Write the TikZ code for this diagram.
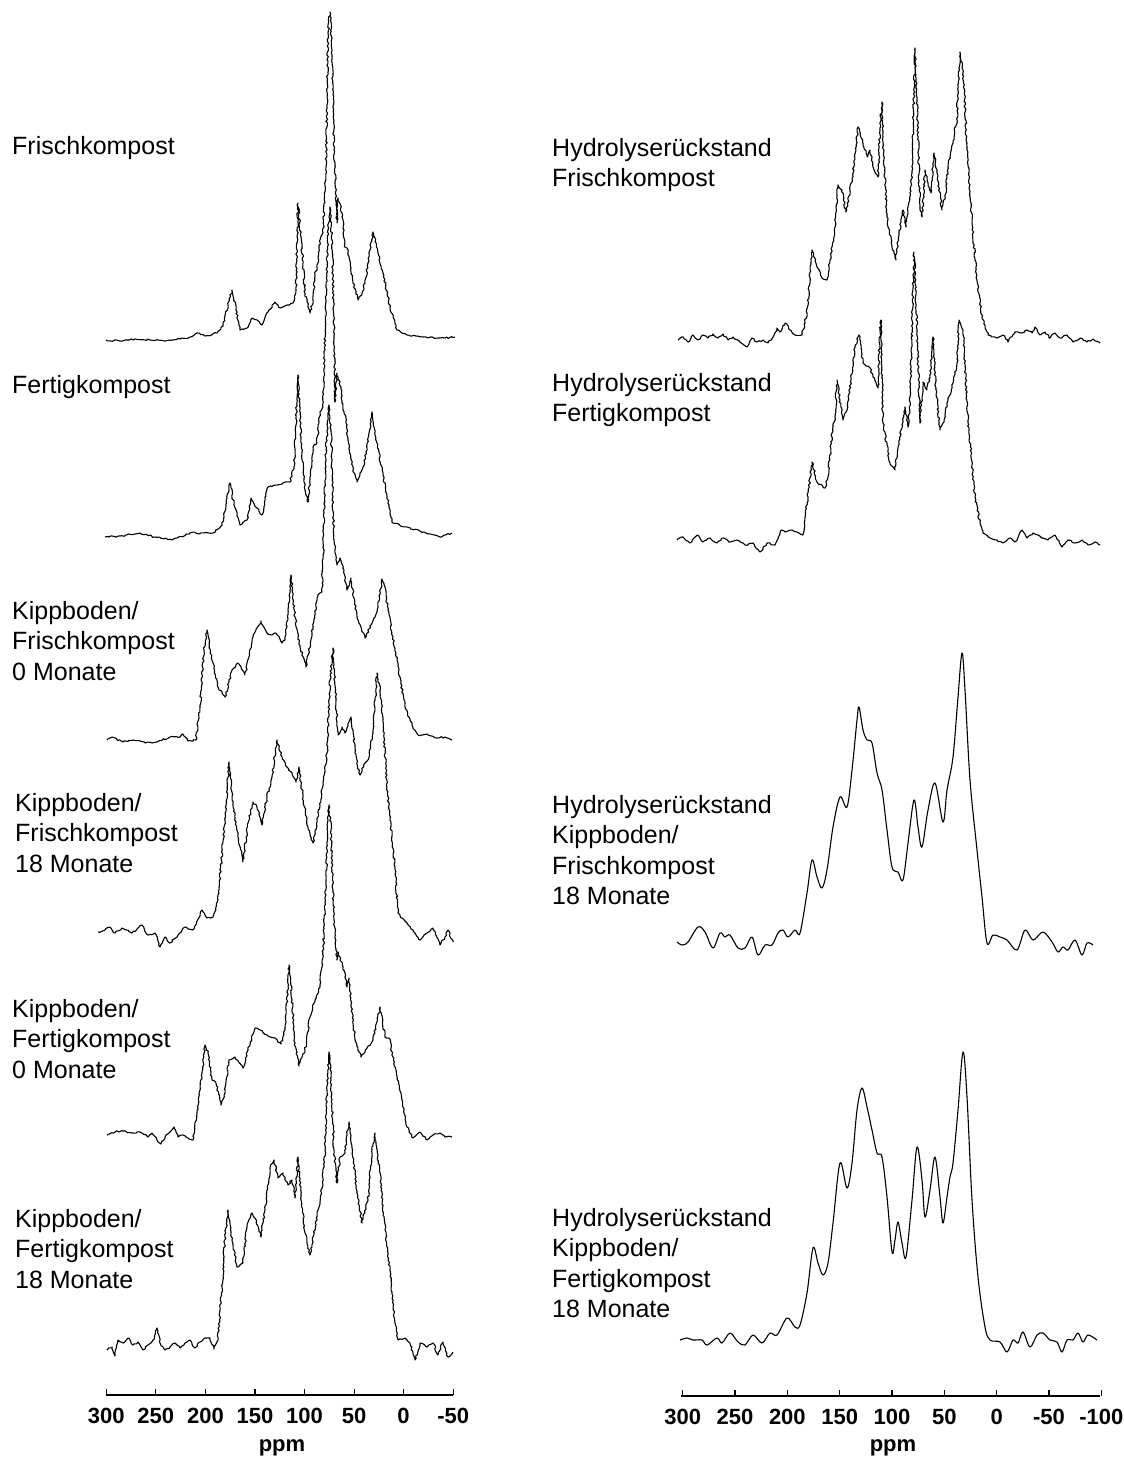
\documentclass[tikz,border=0pt]{standalone}
\usepackage{fontspec}
\setmainfont{Liberation Sans}
\usetikzlibrary{decorations.pathmorphing}

\tikzset{
  spec/.style={line width=1.1pt, line join=round, decorate,
    decoration={random steps, segment length=2.2pt, amplitude=0.9pt}},
  wavy/.style={line width=1.1pt, line join=round, smooth, tension=0.55},
  lbl/.style={anchor=base west, align=left, inner sep=0pt, font=\fontsize{25}{30.5}\selectfont},
  ticklbl/.style={anchor=base, inner sep=0pt, font=\fontsize{22}{24}\selectfont\bfseries},
  axisline/.style={line width=1.1pt},
}

\begin{document}
\begin{tikzpicture}[x=1pt,y=-1pt]
\useasboundingbox (0,0) rectangle (1124,1459);

% labels left (base = last line)
\node[lbl] (l1) at (12,154) {Frischkompost};
\node[lbl] (l2) at (12,393) {Fertigkompost};
\node[lbl] (l3) at (12,680) {Kippboden/\\Frischkompost\\0 Monate};
\node[lbl] (l4) at (15,872) {Kippboden/\\Frischkompost\\18 Monate};
\node[lbl] (l5) at (12,1078) {Kippboden/\\Fertigkompost\\0 Monate};
\node[lbl] (l6) at (15,1288) {Kippboden/\\Fertigkompost\\18 Monate};

% labels right
\node[lbl] (r1) at (552,186.5) {Hydrolyserückstand\\Frischkompost};
\node[lbl] (r2) at (552,421.5) {Hydrolyserückstand\\Fertigkompost};
\node[lbl] (r3) at (552,904.5) {Hydrolyserückstand\\Kippboden/\\Frischkompost\\18 Monate};
\node[lbl] (r4) at (552,1317.5) {Hydrolyserückstand\\Kippboden/\\Fertigkompost\\18 Monate};

% spectra left
\draw[spec] plot coordinates {(106,340) (120,341) (135,339) (150,340) (165,341) (180,339) (190,337) (197,333) (205,336) (217,333) (223,325) (228,305) (232,290) (236,310) (240,330) (247,328) (252,318) (257,320) (262,325) (268,312) (275,302) (280,308) (287,305) (293,303) (296,290) (298,203) (301,237) (305,293) (310,313) (313,300) (315,272) (317,270) (320,240) (323,233) (326,167) (328,33) (330,12) (332,50) (334,150) (337,223) (338,198) (342,213) (345,247) (347,248) (353,283) (358,300) (362,293) (365,283) (368,263) (373,232) (375,238) (378,253) (383,273) (390,307) (397,330) (407,335) (423,337) (440,338) (455,337)};

\draw[spec] plot coordinates {(105,537) (120,536) (140,533) (155,537) (172,540) (190,533) (213,533) (222,525) (226,505) (230,483) (234,505) (240,525) (247,520) (251,498) (257,508) (262,515) (268,487) (277,485) (283,483) (290,482) (294,467) (298,375) (301,437) (305,490) (308,502) (313,447) (317,443) (320,412) (323,407) (326,300) (328,230) (330,207) (332,240) (334,330) (335,402) (337,373) (341,387) (343,410) (346,418) (348,440) (353,470) (357,482) (363,467) (367,450) (372,412) (374,427) (377,443) (383,475) (390,513) (393,523) (407,527) (423,532) (440,537) (452,533)};

\draw[spec] plot coordinates {(107,740) (112,737) (123,742) (133,740) (145,743) (157,742) (170,737) (180,737) (183,734) (188,741) (196,740) (200,707) (204,650) (207,630) (212,660) (218,687) (225,697) (232,670) (238,663) (245,675) (253,637) (261,621) (267,633) (272,635) (276,633) (282,643) (285,640) (288,610) (291,575) (295,617) (300,647) (306,667) (312,633) (318,595) (322,592) (326,450) (328,420) (329,405) (331,430) (334,540) (337,565) (340,558) (344,570) (347,590) (351,578) (357,617) (365,638) (372,623) (377,612) (382,579) (385,587) (388,610) (397,660) (405,707) (412,725) (418,735) (427,734) (437,738) (445,737) (452,740)};

\draw[spec] plot coordinates {(98,932) (105,930) (110,927) (115,933) (122,928) (132,933) (142,925) (148,935) (155,933) (160,947) (165,937) (170,943) (177,937) (185,927) (193,930) (202,910) (207,918) (213,917) (218,900) (225,820) (229,762) (233,803) (238,837) (243,862) (248,823) (253,802) (257,807) (262,825) (267,797) (272,777) (277,740) (282,757) (287,767) (292,773) (296,782) (299,767) (303,797) (308,827) (313,843) (318,817) (323,782) (327,753) (330,680) (333,648) (336,700) (338,735) (342,727) (345,733) (347,728) (351,717) (353,730) (355,753) (360,775) (365,763) (369,757) (373,733) (375,700) (377,673) (380,690) (383,720) (387,787) (390,820) (395,867) (398,913) (402,918) (407,923) (413,930) (420,940) (427,933) (433,928) (440,945) (445,937) (448,930) (453,942)};

\draw[spec] plot coordinates {(107,1135) (115,1132) (123,1131) (133,1133) (140,1132) (148,1137) (152,1133) (157,1140) (161,1144) (165,1137) (170,1132) (174,1127) (178,1137) (183,1135) (188,1138) (193,1140) (197,1113) (202,1073) (205,1045) (208,1053) (212,1080) (216,1083) (221,1105) (225,1093) (229,1060) (235,1057) (243,1068) (248,1050) (255,1028) (260,1030) (267,1035) (275,1038) (281,1044) (285,1030) (287,1000) (289,965) (292,1000) (295,1043) (299,1066) (305,1050) (310,1017) (315,1000) (320,987) (323,953) (326,880) (328,820) (329,805) (331,830) (334,920) (337,960) (338,952) (343,967) (347,987) (349,978) (355,1040) (361,1057) (367,1048) (373,1040) (380,1007) (385,1037) (389,1038) (395,1067) (402,1100) (407,1127) (413,1138) (420,1132) (427,1140) (433,1135) (440,1133) (445,1137) (452,1137)};

\draw[spec] plot coordinates {(107,1350) (112,1347) (115,1356) (118,1340) (123,1343) (128,1338) (133,1345) (138,1342) (143,1350) (148,1345) (153,1340) (157,1328) (160,1343) (165,1350) (170,1347) (175,1343) (180,1348) (185,1343) (190,1340) (195,1348) (200,1342) (205,1338) (210,1338) (214,1349) (218,1340) (222,1287) (225,1237) (228,1210) (232,1240) (237,1267) (243,1263) (247,1227) (252,1213) (255,1218) (261,1237) (265,1210) (270,1168) (274,1160) (278,1178) (283,1173) (288,1185) (292,1180) (295,1198) (298,1157) (301,1197) (305,1233) (310,1255) (317,1217) (322,1188) (325,1150) (327,1090) (329,1052) (331,1080) (334,1150) (337,1183) (340,1157) (345,1153) (347,1135) (349,1122) (351,1135) (357,1193) (362,1223) (368,1200) (372,1150) (375,1133) (380,1173) (385,1230) (390,1270) (395,1323) (398,1340) (405,1338) (410,1343) (415,1360) (420,1343) (427,1347) (433,1343) (438,1355) (443,1342) (448,1357) (453,1352)};

% spectra right
\draw[spec] plot coordinates {(678,340) (683,337) (688,342) (693,335) (698,340) (703,335) (708,338) (713,334) (718,338) (723,334) (728,340) (733,337) (740,342) (747,347) (752,338) (757,342) (763,340) (768,343) (773,337) (777,328) (780,332) (785,323) (790,330) (795,335) (802,335) (807,313) (812,250) (817,267) (822,278) (827,280) (830,260) (835,227) (838,185) (842,190) (846,212) (850,190) (853,173) (858,127) (863,143) (867,157) (870,150) (873,167) (878,177) (880,130) (882,102) (883,137) (887,217) (892,247) (896,260) (899,233) (903,210) (906,227) (909,202) (912,173) (915,48) (917,97) (920,210) (922,217) (925,170) (928,183) (931,193) (934,153) (937,173) (942,210) (945,197) (948,167) (953,143) (957,118) (960,52) (963,70) (967,147) (972,223) (977,280) (982,317) (988,335) (997,338) (1003,335) (1008,342) (1015,332) (1022,333) (1027,330) (1032,333) (1035,327) (1040,335) (1045,332) (1050,338) (1055,333) (1060,338) (1067,335) (1073,342) (1080,338) (1087,342) (1093,339) (1100,343)};

\draw[spec] plot coordinates {(677,540) (683,537) (690,543) (697,535) (703,542) (710,538) (717,543) (723,538) (730,542) (737,540) (745,545) (753,543) (760,552) (767,543) (775,545) (781,530) (785,532) (792,530) (797,532) (803,535) (807,503) (812,462) (817,482) (825,488) (828,477) (832,433) (835,417) (837,380) (840,400) (843,420) (847,410) (851,380) (855,347) (859,335) (863,363) (870,368) (873,377) (878,388) (880,330) (881,320) (883,423) (890,463) (895,470) (898,448) (905,407) (908,427) (910,402) (912,330) (914,252) (917,330) (920,423) (923,382) (927,390) (930,378) (933,337) (936,390) (940,430) (943,423) (948,400) (953,383) (957,363) (959,320) (963,330) (968,420) (975,497) (980,523) (983,533) (990,538) (997,540) (1003,543) (1010,538) (1015,542) (1022,530) (1027,538) (1033,533) (1038,535) (1043,538) (1048,540) (1055,535) (1062,547) (1068,540) (1075,543) (1082,540) (1088,545) (1095,542) (1100,545)};

\draw[wavy] plot coordinates {(677,942) (682,945) (688,942) (698,927) (705,932) (713,948) (720,933) (725,937) (730,935) (738,948) (745,948) (752,937) (758,955) (765,945) (772,945) (778,933) (783,930) (788,937) (795,930) (800,933) (807,893) (812,860) (817,877) (822,888) (827,870) (833,827) (840,797) (847,807) (852,770) (857,720) (859,707) (863,730) (867,740) (872,743) (877,773) (882,790) (887,830) (892,867) (898,872) (903,880) (908,843) (914,800) (918,827) (922,847) (928,810) (935,783) (943,822) (947,790) (953,757) (958,697) (962,653) (965,690) (970,780) (977,850) (982,897) (987,943) (993,935) (1000,937) (1007,940) (1017,950) (1025,930) (1033,940) (1043,932) (1052,942) (1058,952) (1063,947) (1068,950) (1075,940) (1082,955) (1087,943) (1093,945)};

\draw[wavy] plot coordinates {(680,1340) (687,1338) (693,1340) (702,1340) (707,1345) (717,1338) (722,1343) (730,1333) (738,1342) (745,1345) (753,1335) (762,1343) (770,1333) (777,1335) (787,1318) (795,1327) (800,1325) (807,1293) (813,1248) (818,1263) (823,1275) (828,1263) (833,1223) (840,1163) (847,1188) (852,1163) (857,1110) (862,1088) (867,1107) (872,1130) (877,1153) (882,1157) (887,1197) (892,1252) (895,1240) (898,1222) (902,1243) (906,1257) (912,1200) (917,1147) (922,1180) (925,1217) (930,1190) (935,1157) (940,1197) (943,1223) (947,1197) (950,1177) (953,1163) (958,1110) (963,1052) (967,1097) (972,1200) (978,1277) (985,1327) (990,1340) (1000,1342) (1007,1352) (1013,1340) (1018,1343) (1023,1332) (1030,1347) (1037,1335) (1043,1333) (1050,1340) (1057,1342) (1062,1352) (1067,1340) (1073,1340) (1078,1333) (1083,1342) (1088,1335) (1097,1340)};

% axes
\draw[axisline] (106,1395) -- (453.3,1395);
\foreach \v in {300,250,...,-50}{
  \draw[axisline] ({403.6-0.991*\v},1395) -- ++(0,-6);
  \node[ticklbl] (lt\v) at ({403.6-0.991*\v},1423) {\v};
}
\node[ticklbl] (lppm) at (282,1451) {ppm};

\draw[axisline] (681.3,1396) -- (1100,1396);
\foreach \v in {300,250,...,-100}{
  \draw[axisline] ({996.7-1.0467*\v},1396) -- ++(0,-6);
  \node[ticklbl] (rt\v) at ({996.7-1.0467*\v},1424) {\v};
}
\node[ticklbl] (rppm) at (893,1451) {ppm};
\end{tikzpicture}
\end{document}
